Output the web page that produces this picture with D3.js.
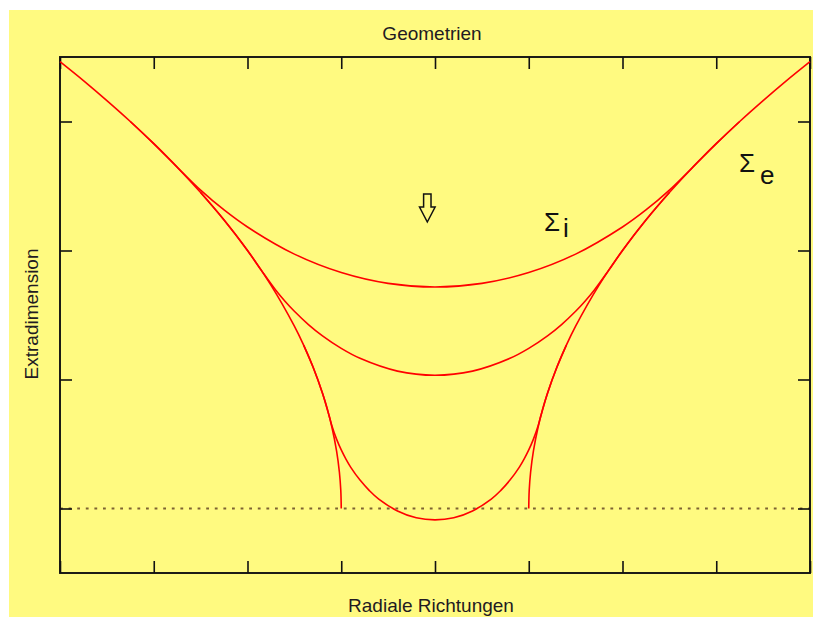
<!DOCTYPE html>
<html>
<head>
<meta charset="utf-8">
<script src="https://cdn.jsdelivr.net/npm/d3@7"></script>
<style>
  html, body { margin: 0; padding: 0; background: #ffffff; }
  svg { display: block; }
  text { font-family: "Liberation Sans", Arial, sans-serif; }
</style>
</head>
<body>
<svg id="chart" width="813" height="617"></svg>
<script>
// Radial coordinate (r) and embedding height (z), Schwarzschild horizon at r = 1.

// Exterior paraboloid: from the horizon out to the plot edge
const exteriorR = [1.0, 1.005, 1.02, 1.05, 1.1, 1.15, 1.2, 1.3, 1.4, 1.5, 1.75, 2.0, 2.25, 2.5, 2.75, 3.0, 3.25, 3.5, 3.75, 4.0];
const exteriorZ = [0.0, 0.141, 0.283, 0.447, 0.632, 0.775, 0.894, 1.095, 1.265, 1.414, 1.732, 2.0, 2.236, 2.449, 2.646, 2.828, 3.0, 3.162, 3.317, 3.464];

// Interior caps (Σi), each joined to the exterior surface past the star's radius
const capWideR = [0, 0.5, 1.0, 1.5, 2.0, 2.25, 2.5, 2.74, 3.0, 3.25];
const capWideZ = [1.717, 1.745, 1.829, 1.972, 2.182, 2.314, 2.468, 2.638, 2.828, 3.0];

const capMidR = [0, 0.4, 0.8, 1.0, 1.2, 1.35, 1.5, 1.6, 1.7, 1.85, 2.0, 2.25, 2.5];
const capMidZ = [1.033, 1.065, 1.164, 1.241, 1.338, 1.426, 1.529, 1.607, 1.694, 1.844, 2.0, 2.236, 2.449];

const capDeepR = [0, 0.2, 0.4, 0.6, 0.7, 0.8, 0.9, 0.95, 1.0, 1.05, 1.1, 1.125, 1.2, 1.3, 1.4];
const capDeepZ = [-0.088, -0.072, -0.019, 0.073, 0.139, 0.220, 0.321, 0.383, 0.454, 0.538, 0.642, 0.707, 0.894, 1.095, 1.265];

// Axis ticks (unlabelled)
const xTicks = [-4, -3, -2, -1, 0, 1, 2, 3, 4];
const yTicks = [0, 1, 2, 3];
const horizonZ = 0;

// Texts
const titleText = "Geometrien";
const xLabelText = "Radiale Richtungen";
const yLabelText = "Extradimension";
const labelExterior = { sym: "Σ", sub: "e" };
const labelInterior = { sym: "Σ", sub: "i" };
// Downward arrow tip in data units
const arrowTip = { r: -0.082, z: 2.221 };

const W = 813, H = 617;
const plot = { left: 60, right: 810, top: 57, bottom: 573 };

const svg = d3.select("#chart");

svg.append("rect")
  .attr("x", 9).attr("y", 10)
  .attr("width", W - 9).attr("height", H - 10)
  .attr("fill", "#fffa80");

const x = d3.scaleLinear().domain([-4, 4]).range([plot.left, plot.right]);
const y = d3.scaleLinear().domain([-0.5, 3.5]).range([plot.bottom, plot.top]);

// Horizon line (dotted)
svg.append("line")
  .attr("x1", x(-4)).attr("x2", x(4))
  .attr("y1", y(horizonZ)).attr("y2", y(horizonZ))
  .attr("stroke", "#7d6232")
  .attr("stroke-width", 2)
  .attr("stroke-dasharray", "2.8,5.8");

// Frame with inward ticks on all four sides
const tickLen = 12;
const axes = svg.append("g");
axes.append("g").attr("transform", `translate(0,${plot.bottom})`)
  .call(d3.axisTop(x).tickValues(xTicks).tickSize(tickLen).tickFormat(""));
axes.append("g").attr("transform", `translate(0,${plot.top})`)
  .call(d3.axisBottom(x).tickValues(xTicks).tickSize(tickLen).tickFormat(""));
axes.append("g").attr("transform", `translate(${plot.left},0)`)
  .call(d3.axisRight(y).tickValues(yTicks).tickSize(tickLen).tickFormat(""));
axes.append("g").attr("transform", `translate(${plot.right},0)`)
  .call(d3.axisLeft(y).tickValues(yTicks).tickSize(tickLen).tickFormat(""));
axes.selectAll(".domain").attr("stroke", "none");
axes.selectAll(".tick line").attr("stroke", "#111").attr("stroke-width", 1.6);

svg.append("rect")
  .attr("x", plot.left).attr("y", plot.top)
  .attr("width", plot.right - plot.left).attr("height", plot.bottom - plot.top)
  .attr("fill", "none").attr("stroke", "#111").attr("stroke-width", 1.9);

// Curves
const line = d3.line()
  .x(d => x(d[0])).y(d => y(d[1]))
  .curve(d3.curveCatmullRom.alpha(0.5));

const curves = svg.append("g")
  .attr("fill", "none").attr("stroke", "#ff0000")
  .attr("stroke-width", 1.6).attr("stroke-linejoin", "round");

// Exterior surface, each side ending at the horizon
const extRight = exteriorR.map((r, i) => [r, exteriorZ[i]]);
const extLeft = exteriorR.map((r, i) => [-r, exteriorZ[i]]);
curves.append("path").attr("d", line(extLeft));
curves.append("path").attr("d", line(extRight));

// Interior caps, mirrored about r = 0
function mirrored(rs, zs) {
  const right = rs.map((r, i) => [r, zs[i]]);
  const left = rs.slice(1).map((r, i) => [-r, zs[i + 1]]).reverse();
  return left.concat(right);
}
[[capWideR, capWideZ], [capMidR, capMidZ], [capDeepR, capDeepZ]].forEach(([rs, zs]) => {
  curves.append("path").attr("d", line(mirrored(rs, zs)));
});

// Hollow down arrow
const tx = x(arrowTip.r), ty = y(arrowTip.z);
const arrowShape = [[0, 0], [-7.8, -15], [-3.7, -15], [-3.7, -28], [3.7, -28], [3.7, -15], [7.8, -15]];
svg.append("path")
  .attr("d", d3.line()(arrowShape.map(p => [tx + p[0], ty + p[1]])) + "Z")
  .attr("fill", "none").attr("stroke", "#111").attr("stroke-width", 1.5)
  .attr("stroke-linejoin", "miter");

// Surface labels
function sigmaLabel(lbl, sx, sy, subDx, subDy) {
  const t = svg.append("text")
    .attr("x", sx).attr("y", sy)
    .attr("font-size", 26).attr("fill", "#111");
  t.append("tspan").text(lbl.sym);
  t.append("tspan").attr("dx", subDx).attr("dy", subDy).text(lbl.sub);
}
sigmaLabel(labelExterior, 739, 172, 5, 12);
sigmaLabel(labelInterior, 544, 231, 3, 6);

// Titles
svg.append("text")
  .attr("x", 432).attr("y", 40)
  .attr("text-anchor", "middle")
  .attr("font-size", 19).attr("fill", "#221a22")
  .text(titleText);

svg.append("text")
  .attr("x", 431).attr("y", 612)
  .attr("text-anchor", "middle")
  .attr("font-size", 19).attr("fill", "#221a22")
  .text(xLabelText);

svg.append("text")
  .attr("transform", "translate(38,314) rotate(-90)")
  .attr("text-anchor", "middle")
  .attr("font-size", 19).attr("fill", "#221a22")
  .text(yLabelText);
</script>
</body>
</html>
